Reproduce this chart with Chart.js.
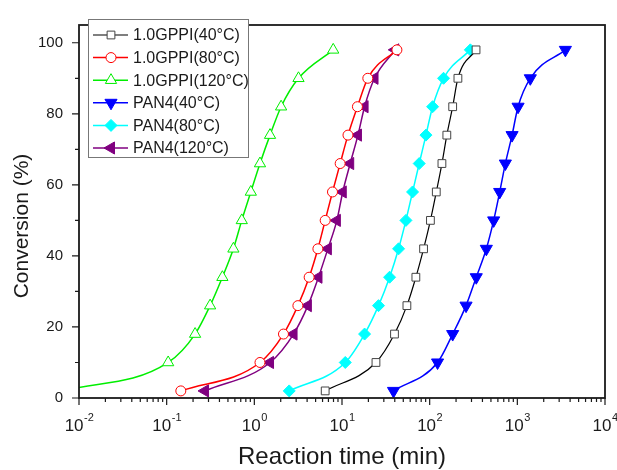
<!DOCTYPE html>
<html>
<head>
<meta charset="utf-8">
<script src="https://cdn.jsdelivr.net/npm/chart.js@4.4.1/dist/chart.umd.min.js"></script>
<style>
  html, body { margin: 0; padding: 0; background: #fff; }
  #wrap { width: 617px; height: 470px; }
</style>
</head>
<body>
<div id="wrap"><canvas id="convChart" width="617" height="470"></canvas></div>
<script>
// conversion levels (%) shared by every series
const conversion = [2, 10, 18, 26, 34, 42, 50, 58, 66, 74, 82, 90, 98];

// reaction time (min) needed to reach each conversion level
const gppi40  = [6.43, 24.4, 39.7, 55.0, 69.6, 85.2, 102, 119, 138, 157, 183, 210, 338];
const gppi80  = [0.145, 1.16, 2.15, 3.14, 4.22, 5.31, 6.43, 7.79, 9.53, 11.7, 15.0, 19.7, 42.3];
const gppi120 = [0.0065, 0.104, 0.211, 0.313, 0.432, 0.577, 0.719, 0.912, 1.16, 1.51, 2.02, 3.19, 7.94];
const pan40   = [38.7, 123, 183, 260, 340, 443, 537, 629, 730, 871, 1019, 1406, 3532];
const pan80   = [2.50, 10.9, 18.1, 26.1, 34.9, 44.2, 53.6, 63.8, 76.0, 90.7, 108, 144, 291];
const pan120  = [0.274, 1.51, 2.80, 4.08, 5.39, 6.90, 8.74, 10.2, 12.4, 15.2, 18.1, 23.5, 40.5];

const seriesLabels = ["1.0GPPI(40°C)", "1.0GPPI(80°C)", "1.0GPPI(120°C)", "PAN4(40°C)", "PAN4(80°C)", "PAN4(120°C)"];

const xTicks = [0.01, 0.1, 1, 10, 100, 1000, 10000];
const yTicks = [0, 20, 40, 60, 80, 100];

const FONT = "'Liberation Sans', Arial, sans-serif";
const INK = "#1a1a1a";

function pairs(times) {
    return times.map((t, i) => ({ x: t, y: conversion[i] }));
}

function series(label, times, color, marker) {
    return Object.assign({
        label: label,
        data: pairs(times),
        borderColor: color,
        borderWidth: 1.5,
        cubicInterpolationMode: "monotone",
        fill: false,
        pointBorderColor: color,
        pointBorderWidth: 1,
        pointHoverRadius: 0
    }, marker);
}

const datasets = [
    series(seriesLabels[0], gppi40, "#000000", { pointStyle: "rect", pointRadius: 5.5, pointBackgroundColor: "#ffffff", pointBorderColor: "#444444", borderWidth: 1.2 }),
    series(seriesLabels[1], gppi80, "#ff0000", { pointStyle: "circle", pointRadius: 5, pointBackgroundColor: "#ffffff" }),
    series(seriesLabels[2], gppi120, "#00ee00", { pointStyle: "triangle", pointRadius: 6.5, pointBackgroundColor: "#ffffff" }),
    series(seriesLabels[3], pan40, "#0000ff", { pointStyle: "triangle", pointRotation: 180, pointRadius: 7, pointBackgroundColor: "#0000ff" }),
    series(seriesLabels[4], pan80, "#00ffff", { pointStyle: "rectRot", pointRadius: 6, pointBackgroundColor: "#00ffff" }),
    series(seriesLabels[5], pan120, "#800080", { pointStyle: "triangle", pointRotation: 270, pointRadius: 7, pointBackgroundColor: "#800080" })
];

// frame, tick marks, decade labels with exponents, axis titles
const axesDecor = {
    id: "axesDecor",
    afterDraw(chart) {
        const ctx = chart.ctx;
        const area = chart.chartArea;
        const xs = chart.scales.x;
        const ys = chart.scales.y;
        ctx.save();
        ctx.strokeStyle = INK;
        ctx.lineWidth = 1.8;
        ctx.strokeRect(area.left, area.top, area.right - area.left, area.bottom - area.top);

        ctx.lineWidth = 1.2;
        ctx.beginPath();
        // y ticks: labelled values plus halfway minors
        yTicks.forEach((v, i) => {
            const py = ys.getPixelForValue(v);
            ctx.moveTo(area.left, py);
            ctx.lineTo(area.left - 7, py);
            if (i < yTicks.length - 1) {
                const pm = ys.getPixelForValue((v + yTicks[i + 1]) / 2);
                ctx.moveTo(area.left, pm);
                ctx.lineTo(area.left - 4, pm);
            }
        });
        // x ticks: decades and 2..9 minors
        xTicks.forEach((v, i) => {
            const px = xs.getPixelForValue(v);
            ctx.moveTo(px, area.bottom);
            ctx.lineTo(px, area.bottom + 7);
            if (i < xTicks.length - 1) {
                for (let k = 2; k <= 9; k++) {
                    const pm = xs.getPixelForValue(v * k);
                    ctx.moveTo(pm, area.bottom);
                    ctx.lineTo(pm, area.bottom + 4);
                }
            }
        });
        ctx.stroke();

        // decade labels as 10 with raised exponent
        ctx.fillStyle = INK;
        ctx.textBaseline = "alphabetic";
        ctx.textAlign = "left";
        xTicks.forEach(v => {
            const px = xs.getPixelForValue(v);
            const exp = String(Math.round(Math.log10(v)));
            ctx.font = "17px " + FONT;
            const wBase = ctx.measureText("10").width;
            ctx.font = "11px " + FONT;
            const wExp = ctx.measureText(exp).width;
            const x0 = px - (wBase + wExp) / 2;
            ctx.font = "17px " + FONT;
            ctx.fillText("10", x0, 431);
            ctx.font = "11px " + FONT;
            ctx.fillText(exp, x0 + wBase + 0.5, 421);
        });

        // axis titles
        ctx.textAlign = "center";
        ctx.textBaseline = "middle";
        ctx.font = "24px " + FONT;
        ctx.fillText("Reaction time (min)", (area.left + area.right) / 2, 457);
        ctx.save();
        ctx.translate(22, 226);
        ctx.rotate(-Math.PI / 2);
        ctx.font = "21px " + FONT;
        ctx.fillText("Conversion (%)", 0, 0);
        ctx.restore();
        ctx.restore();
    }
};

// boxed legend in the upper left of the plot
const boxLegend = {
    id: "boxLegend",
    afterDraw(chart) {
        const ctx = chart.ctx;
        const box = { x: 88, y: 19, w: 160, h: 138 };
        ctx.save();
        ctx.fillStyle = "#ffffff";
        ctx.fillRect(box.x, box.y, box.w, box.h);
        ctx.strokeStyle = "#777777";
        ctx.lineWidth = 1;
        ctx.strokeRect(box.x + 0.5, box.y + 0.5, box.w, box.h);
        ctx.font = "16px " + FONT;
        ctx.textBaseline = "middle";
        ctx.textAlign = "left";
        chart.data.datasets.forEach((ds, i) => {
            const cy = 35 + i * 22.6;
            ctx.strokeStyle = ds.borderColor;
            ctx.lineWidth = ds.borderWidth;
            ctx.beginPath();
            ctx.moveTo(93, cy);
            ctx.lineTo(128, cy);
            ctx.stroke();
            ctx.fillStyle = ds.pointBackgroundColor;
            ctx.strokeStyle = ds.pointBorderColor;
            ctx.lineWidth = ds.pointBorderWidth;
            Chart.helpers.drawPoint(ctx, {
                pointStyle: ds.pointStyle,
                radius: ds.pointRadius,
                rotation: ds.pointRotation || 0,
                borderWidth: ds.pointBorderWidth
            }, 111, cy);
            ctx.fillStyle = INK;
            ctx.fillText(ds.label, 133, cy + 1);
        });
        ctx.restore();
    }
};

new Chart(document.getElementById("convChart"), {
    type: "line",
    data: { datasets: datasets },
    options: {
        responsive: false,
        animation: false,
        devicePixelRatio: 1,
        layout: { padding: { top: 12, right: 12, left: 0, bottom: 0 } },
        plugins: {
            legend: { display: false },
            tooltip: { enabled: false }
        },
        scales: {
            x: {
                type: "logarithmic",
                min: xTicks[0],
                max: xTicks[xTicks.length - 1],
                grid: { display: false },
                border: { display: false },
                ticks: { display: false },
                afterBuildTicks(scale) { scale.ticks = xTicks.map(v => ({ value: v })); },
                afterFit(scale) { scale.height = 72; }
            },
            y: {
                type: "linear",
                min: 0,
                max: 105,
                grid: { display: false, drawTicks: false },
                border: { display: false },
                ticks: {
                    padding: 16,
                    color: INK,
                    font: { family: FONT, size: 15 }
                },
                afterBuildTicks(scale) { scale.ticks = yTicks.map(v => ({ value: v })); },
                afterFit(scale) { scale.width = 79; }
            }
        }
    },
    plugins: [axesDecor, boxLegend]
});
</script>
</body>
</html>
